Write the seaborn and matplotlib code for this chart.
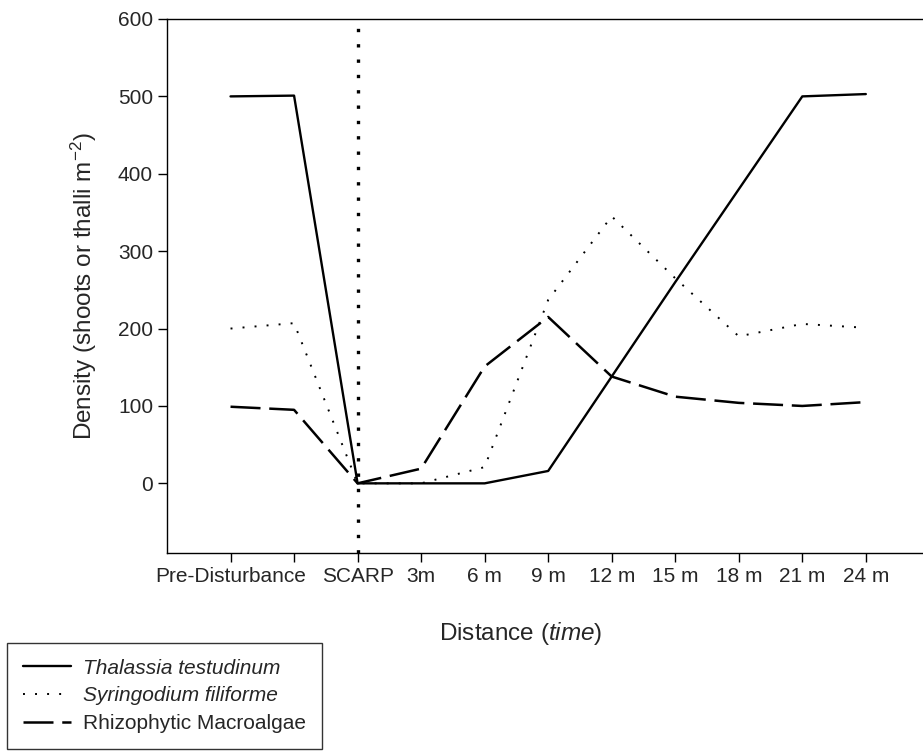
import matplotlib
matplotlib.use("Agg")
import matplotlib.pyplot as plt
import seaborn as sns
import pandas as pd

# --- values ---
x_labels = ["Pre-Disturbance", "", "SCARP", "3m", "6 m", "9 m",
            "12 m", "15 m", "18 m", "21 m", "24 m"]
thalassia = [500, 501, 0, 0, 0, 16, 138, 260, 380, 500, 503]
syringodium = [200, 207, 0, 0, 21, 237, 345, 265, 190, 206, 201]
rhizophytic = [99, 95, 0, 19, 151, 215, 138, 112, 104, 100, 105]
y_ticks = [0, 100, 200, 300, 400, 500, 600]
scarp_index = 2

sns.set_style("ticks")
plt.rcParams['font.family'] = ['Liberation Sans', 'DejaVu Sans']
plt.rcParams['mathtext.fontset'] = 'custom'
plt.rcParams['mathtext.rm'] = 'Liberation Sans'
plt.rcParams['mathtext.it'] = 'Liberation Sans:italic'

pos = list(range(len(x_labels)))
df = pd.DataFrame({"pos": pos, "Thalassia": thalassia,
                   "Syringodium": syringodium, "Rhizophytic": rhizophytic})

fig = plt.figure(figsize=(9.23, 7.52), dpi=100)
ax = fig.add_axes([167/923, 1 - 553/752, 1 - 167/923, (553 - 19)/752])

# vertical dotted line marking the scarp
ax.axvline(scarp_index, color="black", lw=2.4, linestyle=(0, (1, 3.6)), zorder=1)

sns.lineplot(data=df, x="pos", y="Thalassia", ax=ax, color="black", lw=1.7,
             linestyle="-", label="Thalassia testudinum")
sns.lineplot(data=df, x="pos", y="Syringodium", ax=ax, color="black", lw=1.4,
             linestyle=(0, (1, 5.2)), label="Syringodium filiforme")
sns.lineplot(data=df, x="pos", y="Rhizophytic", ax=ax, color="black", lw=1.8,
             linestyle=(0, (12, 3.5)), label="Rhizophytic Macroalgae")

ax.set_xlim(-1, 10.9)
ax.set_ylim(-90, 600)
ax.set_xticks(pos)
ax.set_xticklabels(x_labels)
ax.set_yticks(y_ticks)
ax.tick_params(axis="both", direction="out", length=6.5, width=1,
               labelsize=15, pad=3.5, color="black")
ax.spines["right"].set_visible(False)
for s in ["left", "bottom", "top"]:
    ax.spines[s].set_linewidth(1.0)
    ax.spines[s].set_color("black")

ax.set_xlabel(r"Distance $\mathit{(time)}$", fontsize=17.5)
ax.xaxis.set_label_coords((521 - 167) / (923 - 167), -0.125)
ax.set_ylabel(r"Density (shoots or thalli m$^{-2}$)", fontsize=17.5, labelpad=14)

# legend sits in the lower-left corner of the figure
handles, labels = ax.get_legend_handles_labels()
ax.get_legend().remove()
leg = fig.legend(handles, labels, loc="upper left",
                 bbox_to_anchor=(7/923, 1 - 643/752), fontsize=15,
                 frameon=True, fancybox=False, edgecolor="black",
                 handlelength=2.3, handletextpad=0.6, labelspacing=0.42,
                 borderpad=0.75, borderaxespad=0)
leg.get_frame().set_linewidth(1.0)
leg.get_texts()[0].set_fontstyle("italic")
leg.get_texts()[1].set_fontstyle("italic")

fig.savefig("out.png", dpi=100, facecolor="white")
